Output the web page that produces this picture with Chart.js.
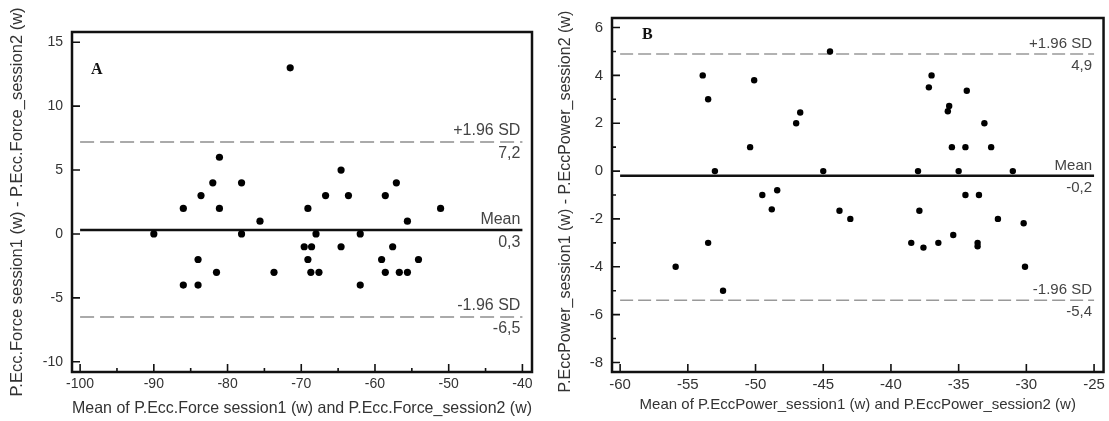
<!DOCTYPE html>
<html>
<head>
<meta charset="utf-8">
<script src="https://cdn.jsdelivr.net/npm/chart.js@4.4.1/dist/chart.umd.min.js"></script>
<style>
  html, body { margin: 0; padding: 0; background: #fff; }
  body { width: 1109px; height: 421px; position: relative; overflow: hidden; }
  .panel { position: absolute; top: 0; height: 421px; }
  #wrapA { left: 0; width: 545px; }
  #wrapB { left: 548px; width: 561px; }
</style>
</head>
<body>
<div class="panel" id="wrapA"><canvas id="chartA" width="545" height="421"></canvas></div>
<div class="panel" id="wrapB"><canvas id="chartB" width="561" height="421"></canvas></div>
<script>
// Panel A: eccentric force, session 1 vs session 2
const forceMeanA = [-90, -86, -86, -84, -84, -83.6, -82, -81.1, -81.1, -81.5, -78.1, -78.1, -75.6, -73.7, -71.5,
  -69.1, -69.6, -68.6, -69.1, -68.7, -67.6, -68, -66.7, -64.6, -64.6, -63.6, -62, -62, -59.1, -58.6,
  -58.6, -57.6, -57.1, -56.7, -55.6, -55.6, -54.1, -51.1];
const forceDiffA = [0, 2, -4, -2, -4, 3, 4, 6, 2, -3, 4, 0, 1, -3, 13,
  2, -1, -1, -2, -3, -3, 0, 3, 5, -1, 3, 0, -4, -2, 3,
  -3, -1, 4, -3, -3, 1, -2, 2];
const limitsA = [7.2, 0.3, -6.5];
const xTicksA = [-100, -90, -80, -70, -60, -50, -40];
const xMinorA = [-95, -85, -75, -65, -55, -45];
const yTicksA = [-10, -5, 0, 5, 10, 15];

// Panel B: eccentric power, session 1 vs session 2
const powerMeanB = [-44.5, -53.9, -50.1, -53.5, -46.7, -47.0, -50.4, -53.0, -45.0, -48.4, -49.5, -48.8, -43.8, -43.0,
  -53.5, -55.9, -52.4, -37.0, -37.2, -34.4, -35.7, -35.8, -33.1, -35.5, -34.5, -32.6, -38.0, -35.0,
  -31.0, -34.5, -33.5, -37.9, -32.1, -30.2, -35.4, -38.5, -37.6, -36.5, -33.6, -33.6, -30.1];
const powerDiffB = [5.0, 4.0, 3.8, 3.0, 2.45, 2.0, 1.0, 0, 0, -0.8, -1.0, -1.6, -1.66, -2.0,
  -3.0, -4.0, -5.0, 4.0, 3.5, 3.36, 2.72, 2.5, 2.0, 1.0, 1.0, 1.0, 0, 0,
  0, -1.0, -1.0, -1.66, -2.0, -2.18, -2.67, -3.0, -3.2, -3.0, -3.0, -3.14, -4.0];
const limitsB = [4.9, -0.2, -5.4];
const xTicksB = [-60, -55, -50, -45, -40, -35, -30, -25];
const yTicksB = [-8, -6, -4, -2, 0, 2, 4, 6];
const yMinorB = [-7, -5, -3, -1, 1, 3, 5];

const limitNames = ['+1.96 SD', 'Mean', '-1.96 SD'];

Chart.defaults.font.family = "'Liberation Sans', Arial, sans-serif";
Chart.defaults.color = '#333';

// frame, inward tick marks, limit labels and panel letter
const frameTicks = {
  id: 'frameTicks',
  afterDraw(chart, args, o) {
    const { ctx, chartArea: a, scales: { x, y } } = chart;
    ctx.save();
    ctx.strokeStyle = '#111';
    ctx.lineWidth = 1.6;
    ctx.beginPath();
    o.xMajor.forEach((v) => { const p = x.getPixelForValue(v); ctx.moveTo(p, a.bottom); ctx.lineTo(p, a.bottom - 8); });
    o.xMinor.forEach((v) => { const p = x.getPixelForValue(v); ctx.moveTo(p, a.bottom); ctx.lineTo(p, a.bottom - 4); });
    o.yMajor.forEach((v) => { const p = y.getPixelForValue(v); ctx.moveTo(a.left, p); ctx.lineTo(a.left + 8, p); });
    o.yMinor.forEach((v) => { const p = y.getPixelForValue(v); ctx.moveTo(a.left, p); ctx.lineTo(a.left + 4, p); });
    ctx.stroke();
    ctx.lineWidth = 2.5;
    ctx.strokeRect(a.left, a.top, a.right - a.left, a.bottom - a.top);

    const xr = x.getPixelForValue(o.xMajor[o.xMajor.length - 1]) - 2;
    ctx.fillStyle = '#444';
    ctx.font = o.labelFont;
    ctx.textAlign = 'right';
    o.limits.forEach((v, i) => {
      const p = y.getPixelForValue(v);
      ctx.textBaseline = 'bottom';
      ctx.fillText(limitNames[i], xr, p - 3);
      ctx.textBaseline = 'top';
      ctx.fillText(v.toFixed(1).replace('.', ','), xr, p + 4);
    });

    ctx.fillStyle = '#111';
    ctx.font = o.letterFont;
    ctx.textAlign = 'left';
    ctx.textBaseline = 'top';
    ctx.fillText(o.letter, o.letterX, o.letterY);
    ctx.restore();
  }
};

function limitLine(value, xs, dashed, color, width) {
  return {
    data: [{ x: xs[0], y: value }, { x: xs[xs.length - 1], y: value }],
    showLine: true,
    pointRadius: 0,
    borderColor: color,
    borderWidth: width,
    borderDash: dashed ? dashed : [],
    fill: false
  };
}

function makeChart(id, cfg) {
  const points = cfg.xs.map((v, i) => ({ x: v, y: cfg.ys[i] }));
  return new Chart(document.getElementById(id), {
    type: 'scatter',
    data: {
      datasets: [
        { data: points, backgroundColor: '#000', borderWidth: 0, pointRadius: cfg.radius },
        limitLine(cfg.limits[0], cfg.xTicks, cfg.dash, cfg.dashColor, cfg.dashWidth),
        limitLine(cfg.limits[1], cfg.xTicks, null, '#111', 2.5),
        limitLine(cfg.limits[2], cfg.xTicks, cfg.dash, cfg.dashColor, cfg.dashWidth)
      ]
    },
    options: {
      responsive: false,
      animation: false,
      layout: { padding: cfg.padding },
      plugins: {
        legend: { display: false },
        tooltip: { enabled: false },
        frameTicks: {
          xMajor: cfg.xTicks, xMinor: cfg.xMinor, yMajor: cfg.yTicks, yMinor: cfg.yMinor,
          limits: cfg.limits, labelFont: cfg.labelFont,
          letter: cfg.letter, letterX: cfg.letterX, letterY: cfg.letterY,
          letterFont: "bold 16px 'Liberation Serif', 'Times New Roman', serif"
        }
      },
      scales: {
        x: {
          type: 'linear',
          min: cfg.xRange[0], max: cfg.xRange[1],
          afterBuildTicks: (s) => { s.ticks = cfg.xTicks.map((v) => ({ value: v })); },
          afterFit: (s) => { s.height = 49; },
          grid: { display: false, drawTicks: false },
          border: { display: false },
          ticks: { autoSkip: false, maxRotation: 0, padding: 4, font: { size: cfg.tickSize }, color: '#333' },
          title: { display: true, text: cfg.xTitle, font: { size: cfg.xTitleSize }, color: '#333', padding: { top: 0, bottom: cfg.xTitlePad } }
        },
        y: {
          type: 'linear',
          min: cfg.yRange[0], max: cfg.yRange[1],
          afterBuildTicks: (s) => { s.ticks = cfg.yTicks.map((v) => ({ value: v })); },
          afterFit: (s) => { s.width = cfg.yWidth; },
          grid: { display: false, drawTicks: false },
          border: { display: false },
          ticks: { autoSkip: false, padding: 9, font: { size: cfg.tickSize }, color: '#333' },
          title: { display: true, text: cfg.yTitle, font: { size: cfg.yTitleSize }, color: '#333', padding: { top: 8, bottom: 0 } }
        }
      }
    },
    plugins: [frameTicks]
  });
}

makeChart('chartA', {
  xs: forceMeanA, ys: forceDiffA, limits: limitsA,
  xTicks: xTicksA, xMinor: xMinorA, yTicks: yTicksA, yMinor: [],
  xRange: [-101.1, -38.7], yRange: [-10.8, 15.8],
  padding: { top: 32, right: 13, bottom: 0, left: 0 },
  yWidth: 72, radius: 3.6,
  dash: [14, 6], dashColor: '#aaa', dashWidth: 2,
  tickSize: 14, xTitleSize: 16.5, yTitleSize: 16.5, xTitlePad: 3,
  labelFont: "16px 'Liberation Sans', Arial, sans-serif",
  letter: 'A', letterX: 91, letterY: 62,
  xTitle: 'Mean of P.Ecc.Force session1 (w) and P.Ecc.Force_session2 (w)',
  yTitle: 'P.Ecc.Force session1 (w) - P.Ecc.Force_session2 (w)'
});

makeChart('chartB', {
  xs: powerMeanB, ys: powerDiffB, limits: limitsB,
  xTicks: xTicksB, xMinor: [], yTicks: yTicksB, yMinor: yMinorB,
  xRange: [-60.6, -24.3], yRange: [-8.4, 6.4],
  padding: { top: 13, right: 5, bottom: 0, left: 0 },
  yWidth: 64, radius: 3.2,
  dash: [13, 5], dashColor: '#999', dashWidth: 1.5,
  tickSize: 15, xTitleSize: 15, yTitleSize: 16, xTitlePad: 7,
  labelFont: "15px 'Liberation Sans', Arial, sans-serif",
  letter: 'B', letterX: 94, letterY: 27,
  xTitle: 'Mean of P.EccPower_session1 (w) and P.EccPower_session2 (w)',
  yTitle: 'P.EccPower_session1 (w) - P.EccPower_session2 (w)   '
});
</script>
</body>
</html>
